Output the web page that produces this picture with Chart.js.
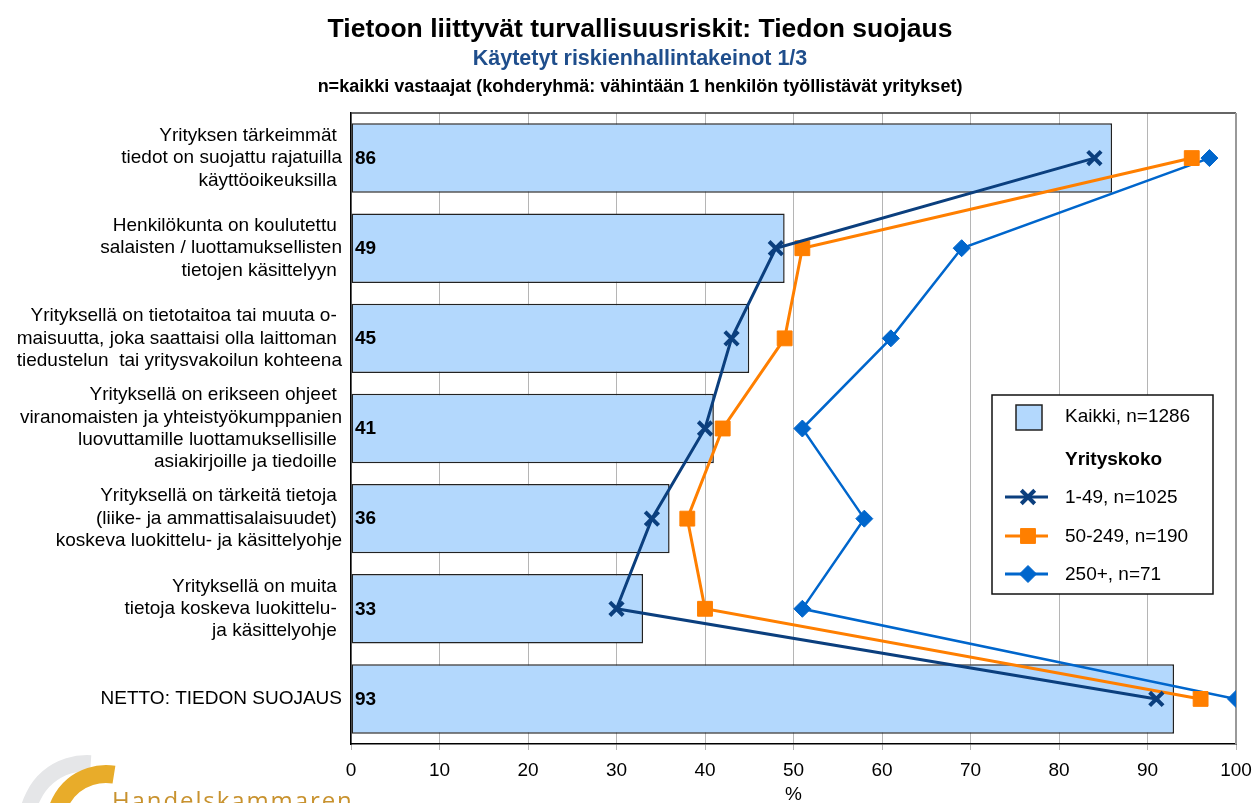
<!DOCTYPE html>
<html>
<head>
<meta charset="utf-8">
<title>Tiedon suojaus</title>
<script src="https://cdn.jsdelivr.net/npm/chart.js@4.4.1/dist/chart.umd.min.js"></script>
<style>
    html, body { margin: 0; padding: 0; background: #fff; }
    #wrap { width: 1252px; height: 803px; position: relative; }
</style>
</head>
<body>
<div id="wrap"><canvas id="chart"></canvas></div>
<script>
// categories (multi-line labels)
var categories = [
    ['Yrityksen tärkeimmät ', 'tiedot on suojattu rajatuilla', 'käyttöoikeuksilla '],
    ['Henkilökunta on koulutettu ', 'salaisten / luottamuksellisten', 'tietojen käsittelyyn '],
    ['Yrityksellä on tietotaitoa tai muuta o- ', 'maisuutta, joka saattaisi olla laittoman ', 'tiedustelun  tai yritysvakoilun kohteena'],
    ['Yrityksellä on erikseen ohjeet ', 'viranomaisten ja yhteistyökumppanien', 'luovuttamille luottamuksellisille ', 'asiakirjoille ja tiedoille '],
    ['Yrityksellä on tärkeitä tietoja ', '(liike- ja ammattisalaisuudet) ', 'koskeva luokittelu- ja käsittelyohje'],
    ['Yrityksellä on muita ', 'tietoja koskeva luokittelu- ', 'ja käsittelyohje '],
    ['NETTO: TIEDON SUOJAUS']
];

// series values (%)
var kaikki = [86, 49, 45, 41, 36, 33, 93];
var koko1_49 = [84, 48, 43, 40, 34, 30, 91];
var koko50_249 = [95, 51, 49, 42, 38, 40, 96];
var koko250 = [97, 69, 61, 51, 58, 51, 100];

var seriesNames = ['Kaikki, n=1286', '1-49, n=1025', '50-249, n=190', '250+, n=71'];
var legendHeader = 'Yrityskoko';

var titleText = 'Tietoon liittyvät turvallisuusriskit: Tiedon suojaus';
var subtitleText = 'Käytetyt riskienhallintakeinot 1/3';
var noteText = 'n=kaikki vastaajat (kohderyhmä: vähintään 1 henkilön työllistävät yritykset)';

var xMin = 0, xMax = 100, xStep = 10;

var FONT = 'Arial, "Liberation Sans", sans-serif';
var barFill = '#B3D8FD';
var navy = '#0B3F7E';
var orange = '#FF7F00';
var blue = '#0066CC';

// header lines, plot frame, bar labels, legend and logo
var extras = {
    id: 'extras',
    beforeDatasetsDraw: function(chart) {
        var ctx = chart.ctx, a = chart.chartArea;
        ctx.save();
        ctx.strokeStyle = '#333';
        ctx.lineWidth = 1.5;
        ctx.beginPath();
        ctx.moveTo(a.left, a.top);
        ctx.lineTo(a.right, a.top);
        ctx.stroke();
        ctx.strokeStyle = '#999';
        ctx.lineWidth = 2;
        ctx.beginPath();
        ctx.moveTo(a.right, a.top);
        ctx.lineTo(a.right, a.bottom);
        ctx.stroke();
        ctx.restore();
    },
    afterDatasetsDraw: function(chart) {
        var ctx = chart.ctx;
        var meta = chart.getDatasetMeta(3);
        var x0 = chart.scales.x.getPixelForValue(0);
        ctx.save();
        ctx.font = 'bold 19px ' + FONT;
        ctx.fillStyle = '#000';
        ctx.textAlign = 'left';
        ctx.textBaseline = 'middle';
        meta.data.forEach(function(el, i) {
            ctx.fillText(kaikki[i], x0 + 4, el.y + 0.5);
        });
        ctx.restore();
    },
    afterDraw: function(chart) {
        var ctx = chart.ctx, a = chart.chartArea;
        var cx = 640;
        ctx.save();

        // titles
        ctx.textAlign = 'center';
        ctx.textBaseline = 'alphabetic';
        ctx.fillStyle = '#000';
        ctx.font = 'bold 26.5px ' + FONT;
        ctx.fillText(titleText, cx, 37);
        ctx.fillStyle = '#1F4E8C';
        ctx.font = 'bold 21.5px ' + FONT;
        ctx.fillText(subtitleText, cx, 65);
        ctx.fillStyle = '#000';
        ctx.font = 'bold 18px ' + FONT;
        ctx.fillText(noteText, cx, 92);

        // legend box
        var lx = a.right - 244, ly = a.top + 282, lw = 221, lh = 199;
        ctx.fillStyle = '#fff';
        ctx.fillRect(lx, ly, lw, lh);
        ctx.strokeStyle = '#111';
        ctx.lineWidth = 1.5;
        ctx.strokeRect(lx, ly, lw, lh);

        ctx.textAlign = 'left';
        ctx.textBaseline = 'middle';
        ctx.font = '19px ' + FONT;
        ctx.fillStyle = barFill;
        ctx.fillRect(lx + 24, ly + 10, 26, 25);
        ctx.strokeStyle = '#222';
        ctx.lineWidth = 1.5;
        ctx.strokeRect(lx + 24, ly + 10, 26, 25);
        ctx.fillStyle = '#000';
        ctx.fillText(seriesNames[0], lx + 73, ly + 22);
        ctx.font = 'bold 19px ' + FONT;
        ctx.fillText(legendHeader, lx + 73, ly + 65);

        var rows = [102, 141, 179];
        var dsIdx = [0, 1, 2];
        ctx.font = '19px ' + FONT;
        rows.forEach(function(dy, k) {
            var ds = chart.data.datasets[dsIdx[k]];
            var y = ly + dy;
            ctx.strokeStyle = ds.borderColor;
            ctx.lineWidth = 3;
            ctx.beginPath();
            ctx.moveTo(lx + 13, y);
            ctx.lineTo(lx + 56, y);
            ctx.stroke();
            ctx.fillStyle = ds.pointBackgroundColor;
            ctx.strokeStyle = ds.pointBorderColor;
            ctx.lineWidth = ds.pointBorderWidth;
            Chart.helpers.drawPoint(ctx, {
                pointStyle: ds.pointStyle,
                radius: ds.pointRadius,
                borderWidth: ds.pointBorderWidth,
                rotation: 0
            }, lx + 36, y);
            ctx.fillStyle = '#000';
            ctx.fillText(ds.label, lx + 73, y + 1);
        });

        // logo, bottom left
        ctx.lineCap = 'butt';
        ctx.strokeStyle = '#E5E6E8';
        ctx.lineWidth = 16;
        ctx.beginPath();
        ctx.arc(87, 823, 60, Math.PI * 0.9, Math.PI * 1.52);
        ctx.stroke();
        ctx.strokeStyle = '#E8AC2A';
        ctx.lineWidth = 18;
        ctx.beginPath();
        ctx.arc(106, 825, 51, Math.PI * 0.9, Math.PI * 1.55);
        ctx.stroke();
        ctx.fillStyle = '#C8922E';
        ctx.font = '24px "Open Sans", sans-serif';
        ctx.letterSpacing = '1.9px';
        ctx.textBaseline = 'alphabetic';
        ctx.fillText('Handelskammaren', 112, 809);
        ctx.restore();
    }
};

var ctx = document.getElementById('chart');

var chart = new Chart(ctx, {
    type: 'bar',
    data: {
        labels: categories,
        datasets: [
            {
                type: 'line',
                label: seriesNames[1],
                data: koko1_49,
                borderColor: navy,
                borderWidth: 3,
                pointStyle: 'crossRot',
                pointRadius: 9.5,
                pointBorderWidth: 4,
                pointBorderColor: navy,
                pointBackgroundColor: navy,
                order: 1
            },
            {
                type: 'line',
                label: seriesNames[2],
                data: koko50_249,
                borderColor: orange,
                borderWidth: 3,
                pointStyle: 'rect',
                pointRadius: 10.5,
                pointBorderWidth: 1,
                pointBorderColor: orange,
                pointBackgroundColor: orange,
                order: 2
            },
            {
                type: 'line',
                label: seriesNames[3],
                data: koko250,
                borderColor: blue,
                borderWidth: 2.5,
                pointStyle: 'rectRot',
                pointRadius: 8.5,
                pointBorderWidth: 1,
                pointBorderColor: blue,
                pointBackgroundColor: blue,
                order: 3
            },
            {
                type: 'bar',
                label: seriesNames[0],
                data: kaikki,
                backgroundColor: barFill,
                borderColor: '#222',
                borderWidth: 1.5,
                borderSkipped: false,
                barPercentage: 0.77,
                categoryPercentage: 1,
                order: 10
            }
        ]
    },
    options: {
        indexAxis: 'y',
        responsive: true,
        maintainAspectRatio: false,
        animation: false,
        layout: { padding: { top: 113, left: 0, right: 0, bottom: 0 } },
        plugins: {
            legend: { display: false },
            tooltip: { enabled: false },
            title: { display: false }
        },
        scales: {
            x: {
                type: 'linear',
                position: 'bottom',
                min: xMin,
                max: xMax,
                ticks: {
                    stepSize: xStep,
                    color: '#000',
                    font: { family: FONT, size: 19 },
                    padding: 9,
                    maxRotation: 0
                },
                grid: {
                    color: '#B5B5B5',
                    lineWidth: 1,
                    tickLength: 6,
                    drawTicks: true
                },
                border: { display: true, color: '#000', width: 1.5 },
                title: {
                    display: true,
                    text: '%',
                    color: '#000',
                    font: { family: FONT, size: 19, lineHeight: 0.9 },
                    padding: { top: 0, bottom: 0 }
                },
                afterFit: function(scale) {
                    scale.height = 59;
                    scale.paddingLeft = 0;
                    scale.paddingRight = 16;
                }
            },
            y: {
                type: 'category',
                offset: true,
                ticks: {
                    color: '#000',
                    font: { family: FONT, size: 19, lineHeight: 1.18 },
                    padding: 9,
                    autoSkip: false
                },
                grid: { display: false, drawTicks: false },
                border: { display: true, color: '#000', width: 1.5 },
                afterFit: function(scale) { scale.width = 351; }
            }
        }
    },
    plugins: [extras]
});
</script>
</body>
</html>
